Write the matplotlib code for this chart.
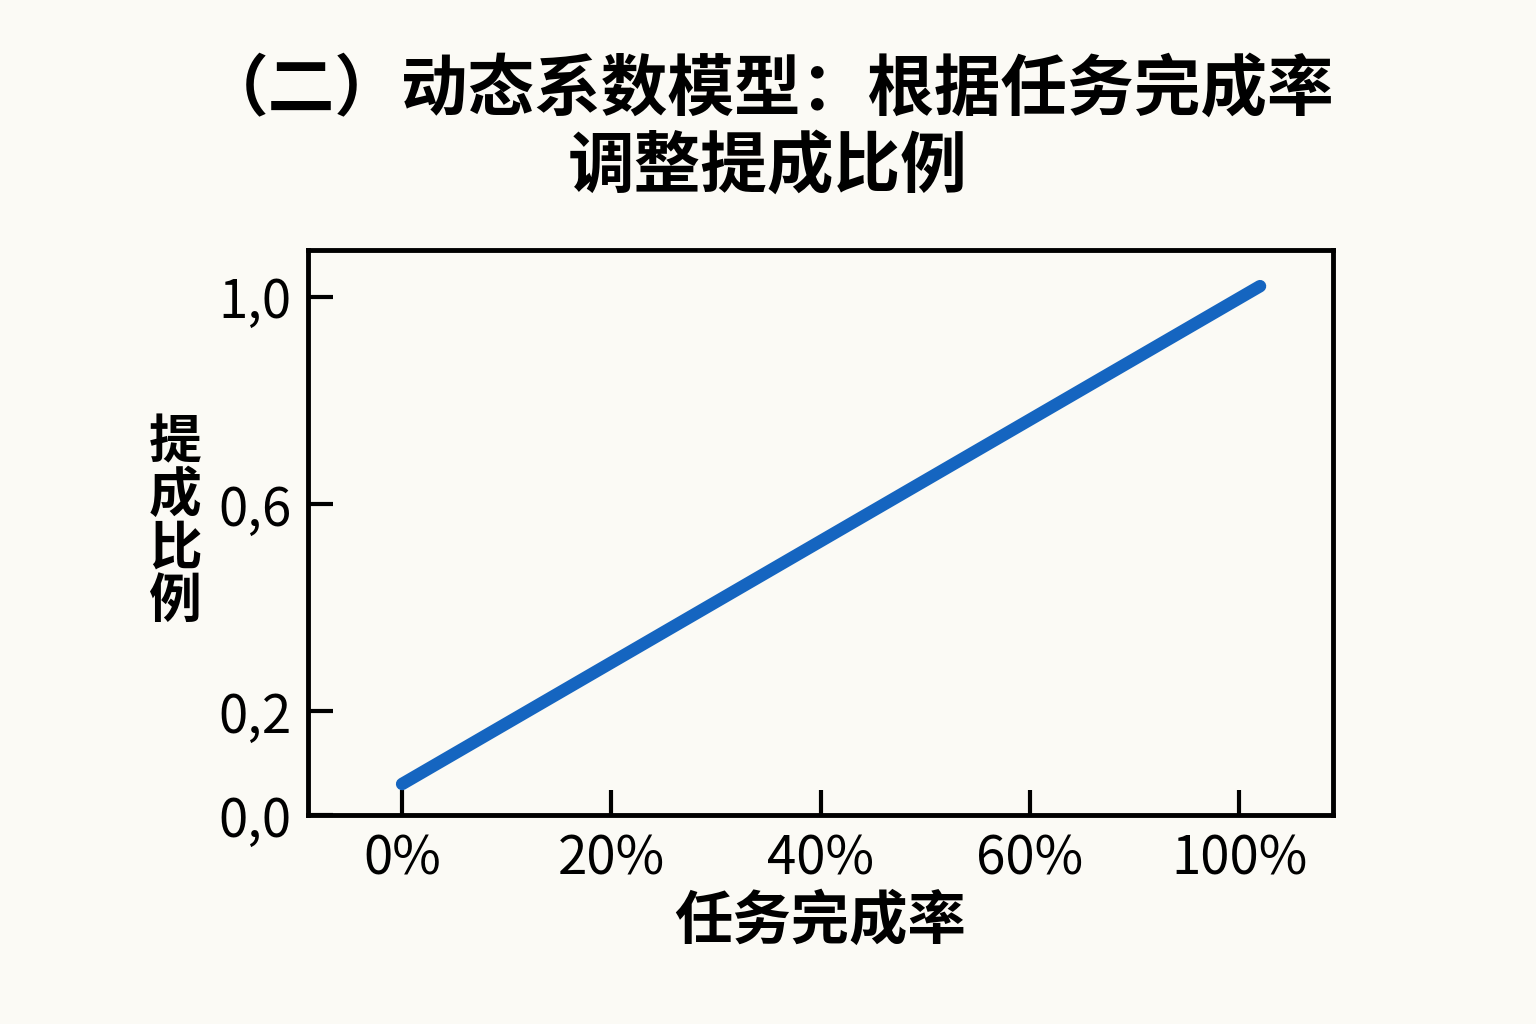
import matplotlib
matplotlib.use('Agg')
import matplotlib.pyplot as plt

plt.rcParams['font.family'] = ['Noto Sans CJK SC', 'DejaVu Sans']

# x positions are evenly spaced tick slots, as drawn in the reference
completion_pos = [0, 4.1]
ratio = [0.06, 1.02]
x_ticks = [0, 1, 2, 3, 4]
x_labels = ['0%', '20%', '40%', '60%', '100%']
y_ticks = [0.0, 0.2, 0.6, 1.0]
y_labels = ['0,0', '0,2', '0,6', '1,0']

bg = '#FBFAF5'
fig = plt.figure(figsize=(15.36, 10.24), dpi=100, facecolor=bg)
ax = fig.add_axes([0.2005, 0.204, 0.6675, 0.552], facecolor=bg)

ax.plot(completion_pos, ratio, color='#1565C0', lw=9, solid_capstyle='round')
ax.set_xlim(-0.45, 4.45)
ax.set_ylim(0, 1.09)
ax.set_xticks(x_ticks, x_labels, fontsize=38, fontweight='medium')
ax.set_yticks(y_ticks, y_labels, fontsize=38, fontweight='medium')
ax.tick_params(direction='in', width=3, length=18, pad=12)
for s in ax.spines.values():
    s.set_linewidth(3.5)

ax.set_xlabel('任务完成率', fontsize=42, fontweight='bold', labelpad=4)
fig.text(0.114, 0.49, '提\n成\n比\n例', fontsize=38, fontweight='bold',
         ha='center', va='center', linespacing=1.0)
fig.suptitle('（二）动态系数模型：根据任务完成率\n调整提成比例', fontsize=48,
             fontweight='bold', y=0.945, linespacing=1.2)

fig.savefig('out.png', dpi=100, facecolor=bg)
